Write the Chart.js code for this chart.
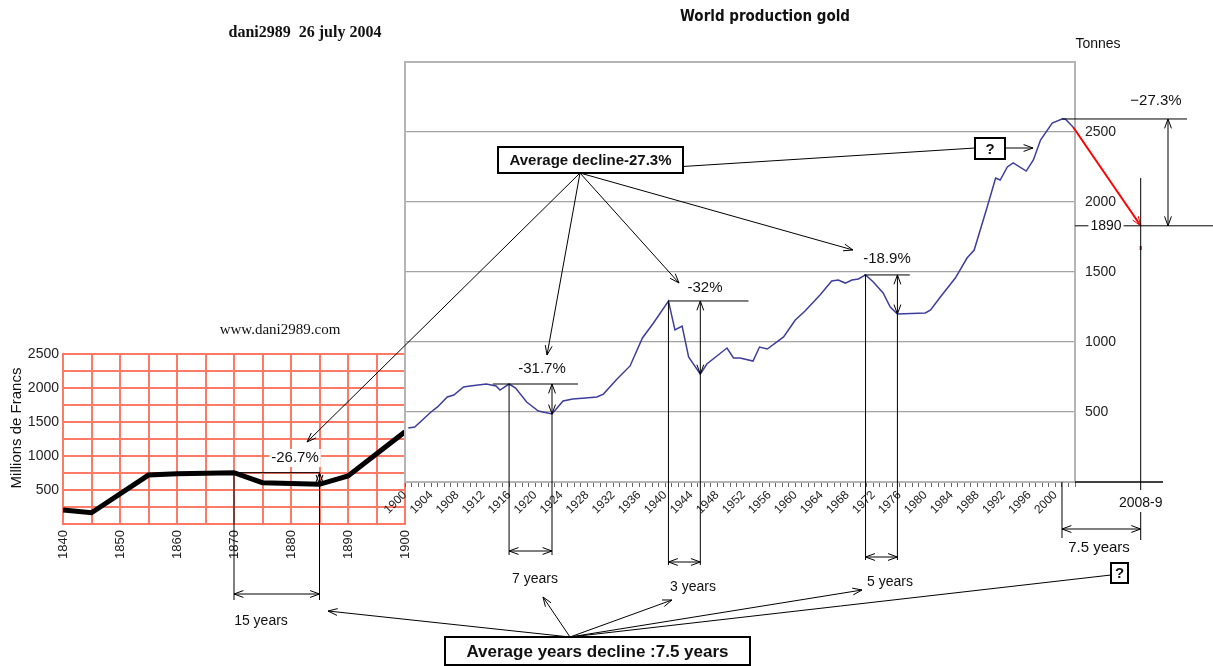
<!DOCTYPE html>
<html lang="en">
<head>
<meta charset="UTF-8"/>
<title>World production gold</title>
<style>
  body { margin: 0; padding: 0; background: #fff; }
  #wrap { position: relative; width: 1213px; height: 666px; }
  canvas { position: absolute; left: 0; top: 0; }
</style>
</head>
<body>
<div id="wrap">
  <canvas id="francsChart" width="1213" height="666"></canvas>
  <canvas id="goldChart" width="1213" height="666"></canvas>
</div>

<script src="https://cdn.jsdelivr.net/npm/chart.js"></script>
<script>
// left panel: Millions de Francs, 1840-1900
const francYears  = [1840, 1845, 1855, 1860, 1870, 1875, 1885, 1890, 1900];
const francValues = [206, 166, 720, 740, 755, 607, 583, 706, 1357];

// main panel: world gold production (tonnes)
const goldYears = [1900.5, 1901.5, 1904, 1905, 1906.5, 1907.5, 1909, 1910, 1912.5, 1914,
  1914.6, 1916, 1917, 1918.7, 1920.5, 1922.6, 1924.3, 1925.8, 1927.7, 1929.5,
  1930.5, 1932.6, 1934.6, 1936.5, 1938.2, 1940.5, 1941.5, 1942.6, 1943.6, 1945.4,
  1946.4, 1949.5, 1950.5, 1951.5, 1953.5, 1954.5, 1955.7, 1958.2, 1960, 1961.5,
  1963.8, 1965.6, 1966.6, 1967.7, 1968.7, 1969.7, 1970.8, 1972, 1973.5, 1974.6,
  1975.7, 1980, 1980.8, 1982.3, 1984.6, 1986.4, 1987.5, 1989.5, 1990.8, 1991.5,
  1992.6, 1993.5, 1995.5, 1996.6, 1997.7, 1999.5, 2001, 2001.5, 2002.7];
const goldTonnes = [385, 393, 500, 536, 607, 621, 679, 686, 700, 686,
  657, 700, 671, 571, 507, 486, 579, 593, 600, 607,
  628, 736, 829, 1029, 1136, 1293, 1086, 1114, 893, 771,
  843, 957, 886, 886, 864, 964, 950, 1036, 1157, 1221,
  1336, 1436, 1443, 1421, 1443, 1450, 1479, 1429, 1350, 1250,
  1200, 1207, 1229, 1321, 1457, 1600, 1657, 1964, 2171, 2157,
  2250, 2279, 2221, 2300, 2443, 2564, 2593, 2593, 2536];

// red projection (drawn past the plot frame, to the "2008-9" mark)
const projYears  = [2002.7, 2013.1];
const projTonnes = [2536, 1830];

const tonneTicks = [500, 1000, 1500, 2000, 2500];
const francTicks = [500, 1000, 1500, 2000, 2500];

// declines marked on the charts
const declines = [
  { panel: 'francs', peak: [1870, 755], low: [1885, 583], from: 1860.5, text: '-26.7%', tx: 295, ty: 458,
    span: '15 years', armY: 594, footY: 600, sx: 261, sy: 621 },
  { panel: 'gold', peak: [1916, 700], low: [1922.6, 486], from: 1913.5, to: 1926.6, text: '-31.7%', tx: 542, ty: 369,
    span: '7 years', armY: 551, footY: 555, sx: 535, sy: 579 },
  { panel: 'gold', peak: [1940.5, 1293], low: [1945.4, 771], from: 1940.5, to: 1952.8, text: '-32%', tx: 705, ty: 288,
    span: '3 years', armY: 562, footY: 565, sx: 693, sy: 587 },
  { panel: 'gold', peak: [1970.8, 1479], low: [1975.7, 1200], from: 1970.6, to: 1977.6, text: '-18.9%', tx: 887, ty: 259,
    span: '5 years', armY: 557, footY: 560, sx: 890, sy: 582 }
];

const sans = "'Liberation Sans', Arial, sans-serif";

function seg(c, x1, y1, x2, y2, color, w) {
  c.beginPath();
  c.strokeStyle = color || '#000';
  c.lineWidth = w || 1;
  c.moveTo(x1, y1);
  c.lineTo(x2, y2);
  c.stroke();
}
function head(c, x1, y1, x2, y2, color) {
  const a = Math.atan2(y2 - y1, x2 - x1), s = 10, o = 0.35;
  c.beginPath();
  c.strokeStyle = color || '#000';
  c.lineWidth = 1;
  c.moveTo(x2 - s * Math.cos(a - o), y2 - s * Math.sin(a - o));
  c.lineTo(x2, y2);
  c.lineTo(x2 - s * Math.cos(a + o), y2 - s * Math.sin(a + o));
  c.stroke();
}
function arrow(c, x1, y1, x2, y2, color) { seg(c, x1, y1, x2, y2, color, 1); head(c, x1, y1, x2, y2, color); }
function both(c, x1, y1, x2, y2) { arrow(c, x1, y1, x2, y2); head(c, x2, y2, x1, y1); }
function label(c, str, x, y, font, bg) {
  c.font = font;
  c.textAlign = 'center';
  c.textBaseline = 'middle';
  if (bg) {
    const w = c.measureText(str).width;
    c.fillStyle = '#fff';
    c.fillRect(x - w / 2 - 2, y - 9, w + 4, 18);
  }
  c.fillStyle = '#111';
  c.fillText(str, x, y);
}
function box(c, str, x, y, w, h, font) {
  c.fillStyle = '#fff';
  c.fillRect(x, y, w, h);
  c.strokeStyle = '#000';
  c.lineWidth = 2;
  c.strokeRect(x, y, w, h);
  label(c, str, x + w / 2, y + h / 2 + 1, font);
}

// ---- left chart ----
const francsChart = new Chart(document.getElementById('francsChart'), {
  type: 'line',
  data: {
    datasets: [{
      data: francYears.map((x, i) => ({ x, y: francValues[i] })),
      borderColor: '#000',
      borderWidth: 5,
      pointRadius: 0,
      tension: 0
    }]
  },
  options: {
    responsive: false,
    animation: false,
    devicePixelRatio: 1,
    events: [],
    layout: { padding: { left: 13, top: 354, right: 808, bottom: 97 } },
    plugins: { legend: { display: false }, tooltip: { enabled: false } },
    scales: {
      x: {
        type: 'linear', min: 1840, max: 1900,
        afterFit: s => { s.height = 45; },
        ticks: {
          stepSize: 5, autoSkip: false, maxRotation: 90, minRotation: 90, padding: 6,
          callback: v => (v % 10 === 0 ? String(v) : ''),
          color: '#222', font: { family: sans, size: 13 }
        },
        grid: { color: '#ff7a66', lineWidth: 2, drawTicks: false },
        border: { color: '#ff7a66', width: 2 }
      },
      y: {
        min: 0, max: 2500,
        afterFit: s => { s.width = 50; },
        ticks: {
          stepSize: 250, autoSkip: false, padding: 4,
          callback: v => (francTicks.includes(v) ? String(v) : ''),
          color: '#222', font: { family: sans, size: 14 }
        },
        grid: { color: '#ff7a66', lineWidth: 2, drawTicks: false },
        border: { color: '#ff7a66', width: 2 }
      }
    }
  }
});

// ---- main chart annotations ----
const notes = {
  id: 'notes',
  beforeDatasetsDraw(chart) {
    const c = chart.ctx, a = chart.chartArea;
    c.save();
    c.strokeStyle = '#b5b5b5';
    c.lineWidth = 2;
    c.strokeRect(a.left, a.top, a.right - a.left, a.bottom - a.top);
    c.restore();
  },
  afterDraw(chart) {
    const c = chart.ctx;
    const X = v => chart.scales.x.getPixelForValue(v);
    const Y = v => chart.scales.y.getPixelForValue(v);
    const LX = v => francsChart.scales.x.getPixelForValue(v);
    const LY = v => francsChart.scales.y.getPixelForValue(v);
    c.save();

    // axis continues past the frame
    seg(c, chart.chartArea.right, Y(0), 1163, Y(0), '#000', 1.5);

    // titles
    label(c, 'World production gold', 765, 17, "bold 15px 'Liberation Sans Narrow', 'DejaVu Sans Condensed', sans-serif");
    label(c, 'dani2989  26 july 2004', 305, 33, "bold 16px 'Liberation Serif', serif");
    label(c, 'www.dani2989.com', 280, 330, "15px 'Liberation Serif', serif");
    label(c, 'Tonnes', 1098, 44, '14px ' + sans);
    c.save();
    c.translate(17, 428);
    c.rotate(-Math.PI / 2);
    label(c, 'Millions de Francs', 0, 0, '15px ' + sans);
    c.restore();

    // decline brackets
    declines.forEach(d => {
      const px = d.panel === 'gold' ? X : LX, py = d.panel === 'gold' ? Y : LY;
      const x0 = px(d.peak[0]), y0 = py(d.peak[1]);
      const x1 = px(d.low[0]), y1 = py(d.low[1]);
      seg(c, px(d.from), y0, d.to ? px(d.to) : x1, y0);
      seg(c, x0, y0, x0, d.footY);
      seg(c, x1, y1, x1, d.footY);
      both(c, x1, y0, x1, y1);
      both(c, x0, d.armY, x1, d.armY);
      label(c, d.text, d.tx, d.ty, '15px ' + sans, d.panel === 'francs');
      label(c, d.span, d.sx, d.sy, '14px ' + sans);
    });

    // last peak and projection
    const pkX = X(2001), pkY = Y(2593);
    const endX = X(projYears[1]), endY = Y(projTonnes[1]);
    head(c, X(projYears[0]), Y(projTonnes[0]), endX, endY, '#ff0000');
    seg(c, endX, 246, endX, 250, '#ff0000', 2);
    seg(c, pkX, pkY, 1187, pkY);
    label(c, '\u221227.3%', 1156, 101, '15px ' + sans);
    both(c, 1168, pkY, 1168, endY);
    seg(c, 1075, endY, 1213, endY);
    label(c, '1890', 1106, endY, '14px ' + sans, true);
    seg(c, endX, 178, endX, 490);
    label(c, '2008-9', endX, 503, '14px ' + sans);
    seg(c, endX, 512, endX, 540);
    seg(c, pkX, Y(0), pkX, 538);
    both(c, pkX, 529, endX, 529);
    label(c, '7.5 years', 1099, 548, '15px ' + sans);

    // "Average decline" callout
    const o1 = [580, 173];
    arrow(c, o1[0], o1[1], 307, 442);
    arrow(c, o1[0], o1[1], 547, 355);
    arrow(c, o1[0], o1[1], 679, 283);
    arrow(c, o1[0], o1[1], 853, 250);
    seg(c, o1[0], o1[1], 975, 148);
    box(c, 'Average decline-27.3%', 498, 147, 185, 26, 'bold 15px ' + sans);
    box(c, '?', 975, 138, 30, 21, 'bold 15px ' + sans);
    arrow(c, 1005, 148, 1033, 148);

    // "Average years decline" callout
    const o2 = [570, 637];
    arrow(c, o2[0], o2[1], 328, 611);
    arrow(c, o2[0], o2[1], 543, 597);
    arrow(c, o2[0], o2[1], 672, 600);
    arrow(c, o2[0], o2[1], 862, 590);
    seg(c, o2[0], o2[1], 1111, 575);
    box(c, '?', 1111, 563, 17, 20, 'bold 15px ' + sans);
    box(c, 'Average years decline :7.5 years', 445, 637, 305, 28, 'bold 17px ' + sans);

    c.restore();
  }
};

// ---- main chart ----
new Chart(document.getElementById('goldChart'), {
  type: 'line',
  data: {
    datasets: [{
      data: goldYears.map((x, i) => ({ x, y: goldTonnes[i] })),
      borderColor: '#3d3d9e',
      borderWidth: 1.5,
      pointRadius: 0,
      tension: 0
    }, {
      data: projYears.map((x, i) => ({ x, y: projTonnes[i] })),
      borderColor: '#ff0000',
      borderWidth: 2,
      pointRadius: 0,
      clip: false
    }]
  },
  options: {
    responsive: false,
    animation: false,
    devicePixelRatio: 1,
    events: [],
    layout: { padding: { left: 405, top: 62, right: 78, bottom: 134 } },
    plugins: { legend: { display: false }, tooltip: { enabled: false } },
    scales: {
      x: {
        type: 'linear', min: 1900, max: 2003,
        afterFit: s => { s.height = 50; s.paddingLeft = 0; s.paddingRight = 0; },
        ticks: {
          stepSize: 1, maxTicksLimit: 200, autoSkip: false, maxRotation: 45, minRotation: 45, padding: 1,
          callback: v => (Number.isInteger(v) && v % 4 === 0 ? String(v) : ''),
          color: '#222', font: { family: sans, size: 12 }
        },
        grid: { drawOnChartArea: false, tickLength: 5, color: '#666' },
        border: { color: '#666', width: 1.5 }
      },
      y: {
        position: 'right', min: 0, max: 3000,
        afterFit: s => { s.width = 60; },
        ticks: {
          stepSize: 500, padding: 10,
          callback: v => (tonneTicks.includes(v) ? String(v) : ''),
          color: '#222', font: { family: sans, size: 14 }
        },
        grid: { color: '#a3a3a3', lineWidth: 1.2, drawTicks: false },
        border: { display: false }
      }
    }
  },
  plugins: [notes]
});
</script>
</body>
</html>
